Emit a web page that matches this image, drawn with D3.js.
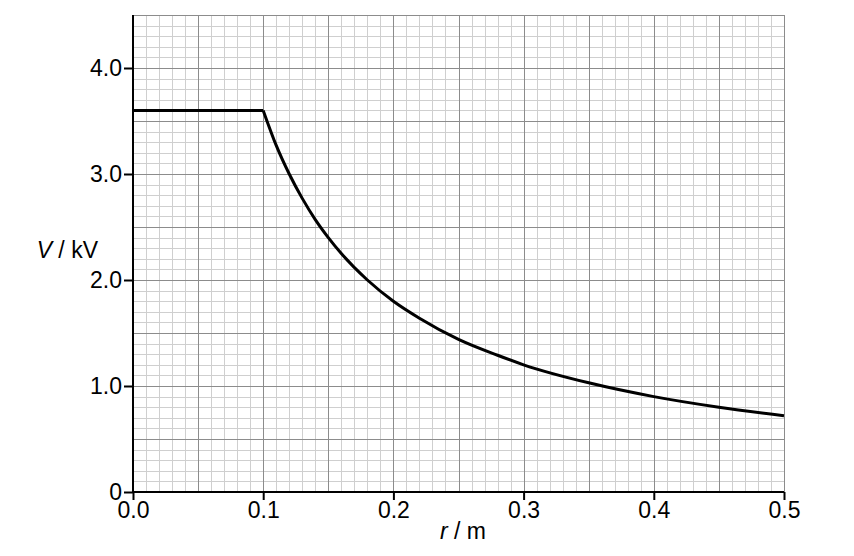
<!DOCTYPE html>
<html>
<head>
<meta charset="utf-8">
<script src="https://cdn.jsdelivr.net/npm/d3@7"></script>
<style>
  body { margin: 0; background: #fff; }
  text { font-family: "Liberation Sans", Arial, sans-serif; }
</style>
</head>
<body>
<div class="holder"></div>
<script>
// values: r in m, V in kV
// flat part inside the sphere
var rFlat = [0.0, 0.1]
var vFlat = [3.6, 3.6]
// falling part outside
var rValues = [0.1, 0.11, 0.12, 0.13, 0.14, 0.15, 0.16, 0.18, 0.2, 0.22, 0.25, 0.28, 0.3, 0.35, 0.4, 0.45, 0.5]
var vValues = [3.6, 3.27, 3.0, 2.77, 2.57, 2.4, 2.25, 2.0, 1.8, 1.64, 1.44, 1.29, 1.2, 1.03, 0.9, 0.8, 0.72]

var xTicks = [0.0, 0.1, 0.2, 0.3, 0.4, 0.5]
var xTickLabels = ["0.0", "0.1", "0.2", "0.3", "0.4", "0.5"]
var yTicks = [0, 1, 2, 3, 4]
var yTickLabels = ["0", "1.0", "2.0", "3.0", "4.0"]

var width = 854,
    height = 556;

var margin = {left: 133, right: 70, top: 15, bottom: 64}

var x = d3.scaleLinear().domain([0, 0.5]).range([margin.left, width - margin.right])
var y = d3.scaleLinear().domain([0, 4.5]).range([height - margin.bottom, margin.top])

var svg = d3.select(".holder").append("svg")
    .attr("width", width)
    .attr("height", height)

// minor grid, 0.01 m and 0.1 kV
var minorX = d3.range(0, 51).map(i => i / 100)
var minorY = d3.range(0, 46).map(i => i / 10)

var grid = svg.append("g").attr("class", "grid")

grid.selectAll(".minx")
    .data(minorX.filter((d, i) => i % 5 != 0))
    .enter().append("line")
    .attr("x1", d => Math.round(x(d)) + 0.5)
    .attr("x2", d => Math.round(x(d)) + 0.5)
    .attr("y1", y(0))
    .attr("y2", y(4.5))
    .style("stroke", "#cfcfcf")
    .style("stroke-width", 1)

grid.selectAll(".miny")
    .data(minorY.filter((d, i) => i % 5 != 0))
    .enter().append("line")
    .attr("x1", x(0))
    .attr("x2", x(0.5))
    .attr("y1", d => Math.round(y(d)) + 0.5)
    .attr("y2", d => Math.round(y(d)) + 0.5)
    .style("stroke", "#cfcfcf")
    .style("stroke-width", 1)

// major grid, 0.05 m and 0.5 kV
grid.selectAll(".majx")
    .data(minorX.filter((d, i) => i % 5 == 0))
    .enter().append("line")
    .attr("x1", d => Math.round(x(d)) + 0.5)
    .attr("x2", d => Math.round(x(d)) + 0.5)
    .attr("y1", y(0))
    .attr("y2", y(4.5))
    .style("stroke", "#8c8c8c")
    .style("stroke-width", 1)

grid.selectAll(".majy")
    .data(minorY.filter((d, i) => i % 5 == 0))
    .enter().append("line")
    .attr("x1", x(0))
    .attr("x2", x(0.5))
    .attr("y1", d => Math.round(y(d)) + 0.5)
    .attr("y2", d => Math.round(y(d)) + 0.5)
    .style("stroke", "#8c8c8c")
    .style("stroke-width", 1)

// axes
var xAxis = d3.axisBottom(x)
    .tickValues(xTicks)
    .tickFormat((d, i) => xTickLabels[i])
    .tickSize(8)
    .tickPadding(2)

var yAxis = d3.axisLeft(y)
    .tickValues(yTicks)
    .tickFormat((d, i) => yTickLabels[i])
    .tickSize(9)
    .tickPadding(2)

var gx = svg.append("g")
    .attr("transform", "translate(0," + y(0) + ")")
    .call(xAxis)
var gy = svg.append("g")
    .attr("transform", "translate(" + x(0) + ",0)")
    .call(yAxis)

svg.selectAll(".domain").remove()
svg.selectAll(".tick line").style("stroke", "#000").style("stroke-width", 2)
svg.selectAll(".tick text")
    .style("font-size", "23px")
    .style("fill", "#000")

svg.append("line")
    .attr("x1", x(0)).attr("x2", x(0))
    .attr("y1", y(0) + 1).attr("y2", y(4.5))
    .style("stroke", "#000").style("stroke-width", 2)
svg.append("line")
    .attr("x1", x(0) - 1).attr("x2", x(0.5))
    .attr("y1", y(0)).attr("y2", y(0))
    .style("stroke", "#000").style("stroke-width", 2)

// the curve
var flatLine = d3.line()
    .x((d, i) => x(rFlat[i]))
    .y((d, i) => y(vFlat[i]))

var line = d3.line()
    .x((d, i) => x(rValues[i]))
    .y((d, i) => y(vValues[i]))
    .curve(d3.curveMonotoneX)

svg.append("path")
    .datum(rFlat)
    .attr("d", flatLine)
    .style("fill", "none")
    .style("stroke", "#000")
    .style("stroke-width", 3)
    .style("stroke-linejoin", "miter")

svg.append("path")
    .datum(rValues)
    .attr("d", line)
    .style("fill", "none")
    .style("stroke", "#000")
    .style("stroke-width", 3)

// axis titles
var yt = svg.append("text")
    .attr("x", 98)
    .attr("y", 258)
    .attr("text-anchor", "end")
    .style("font-size", "23px")
yt.append("tspan").style("font-style", "italic").text("V")
yt.append("tspan").text(" / kV")

var xt = svg.append("text")
    .attr("x", 463)
    .attr("y", 539)
    .attr("text-anchor", "middle")
    .style("font-size", "23px")
xt.append("tspan").style("font-style", "italic").text("r")
xt.append("tspan").text(" / m")
</script>
</body>
</html>
